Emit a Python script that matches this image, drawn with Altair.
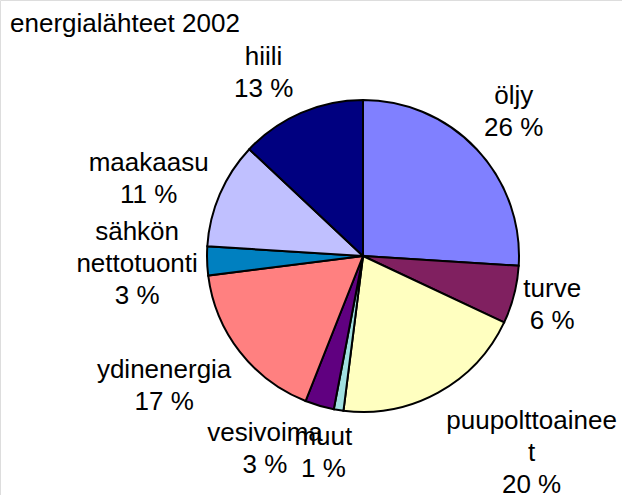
import altair as alt
import pandas as pd

# ---- data ----
categories = ["öljy", "turve", "puupolttoaineet", "muut", "vesivoima",
              "ydinenergia", "sähkön nettotuonti", "maakaasu", "hiili"]
values = [26, 6, 20, 1, 3, 17, 3, 11, 13]
label_names = ["öljy", "turve", "puupolttoainee\nt", "muut", "vesivoima",
               "ydinenergia", "sähkön\nnettotuonti", "maakaasu", "hiili"]
colors = ["#8080FF", "#802060", "#FFFFC0", "#A0E0E0", "#600080",
          "#FF8080", "#0080C0", "#C0C0FF", "#000080"]
title_text = "energialähteet 2002"

df = pd.DataFrame({
    "kategoria": categories,
    "osuus": values,
    "jarjestys": list(range(len(categories))),
    "teksti": [f"{n}\n{v} %" for n, v in zip(label_names, values)],
})

# ---- layout ----
CX, CY, R = 363, 256, 156
LABEL_R = 215
FONT = "Liberation Sans"
FS = 26
LH = 32
# (dx, dy) nudges from the bisector point at LABEL_R, for the block centre
nudge = {
    "öljy": (-6, 3),
    "turve": (-19, -4),
    "puupolttoaineet": (65, 9),
    "muut": (-6, -15),
    "vesivoima": (-38, -13),
    "ydinenergia": (-29, -2),
    "sähkön nettotuonti": (-11, 1),
    "maakaasu": (-17, 8),
    "hiili": (-14, 14),
}

theta_scale = alt.Scale(domain=[0, 100])
base = alt.Chart(df)

pie = base.mark_arc(radius=R, stroke="black", strokeWidth=2).encode(
    theta=alt.Theta("osuus:Q", stack=True, scale=theta_scale),
    order=alt.Order("jarjestys:Q"),
    color=alt.Color("kategoria:N",
                    scale=alt.Scale(domain=categories, range=colors),
                    legend=None),
    x=alt.value(CX),
    y=alt.value(CY),
)

stacked = base.transform_window(
    cum="sum(osuus)",
    sort=[alt.SortField("jarjestys")],
    frame=[None, 0],
).transform_calculate(mid="datum.cum - datum.osuus / 2")

layers = [pie]
for cat, txt in zip(categories, df["teksti"]):
    dx, dy = nudge[cat]
    n_lines = txt.count("\n") + 1
    dy = dy - (n_lines - 1) * LH / 2
    layers.append(
        stacked.transform_filter(alt.datum.kategoria == cat).mark_text(
            radius=LABEL_R, dx=dx, dy=dy, font=FONT, fontSize=FS,
            lineBreak="\n", lineHeight=LH, align="center",
            baseline="middle", color="black",
        ).encode(
            theta=alt.Theta("mid:Q", stack=None, scale=theta_scale),
            text="teksti:N",
            x=alt.value(CX),
            y=alt.value(CY),
        )
    )

title = alt.Chart(pd.DataFrame({"t": [title_text]})).mark_text(
    font=FONT, fontSize=FS, align="left", baseline="alphabetic", color="black"
).encode(text="t:N", x=alt.value(10), y=alt.value(32))
layers.append(title)

chart = alt.layer(*layers).properties(
    width=622, height=495, padding=0,
    autosize=alt.AutoSizeParams(type="none"),
).configure_view(stroke=None).configure(background="white")

chart.save("out.html", embed_options={"renderer": "svg", "actions": False})
